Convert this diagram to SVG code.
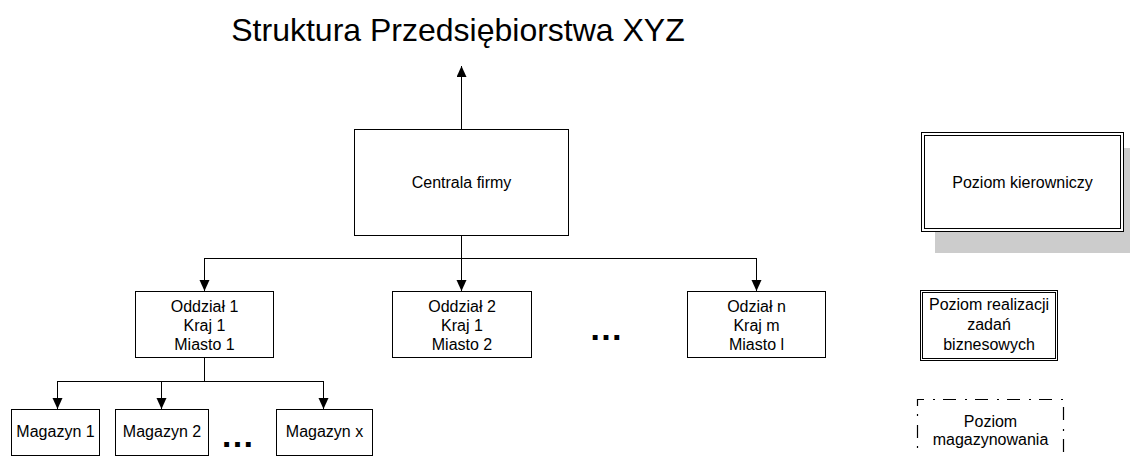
<svg xmlns="http://www.w3.org/2000/svg" width="1130" height="456" viewBox="0 0 1130 456">
  <style>
    .box { fill: #ffffff; stroke: #000000; stroke-width: 1; }
    .legend-dash { fill: none; stroke: #000000; stroke-width: 1.2; stroke-dasharray: 13 9 2 8; }
    .shadow { fill: #cccccc; stroke: none; }
    .lbl { font-family: "Liberation Sans", Arial, sans-serif; font-size: 16px; fill: #000000; text-anchor: middle; }
    .title { font-family: "Liberation Sans", Arial, sans-serif; font-size: 32px; fill: #000000; text-anchor: middle; }
    .dots { font-family: "Liberation Sans", Arial, sans-serif; font-size: 34px; font-weight: bold; fill: #000000; text-anchor: middle; }
    .conn { fill: none; stroke: #000000; stroke-width: 1; }
  </style>
  <defs>
    <marker id="arrow" markerUnits="userSpaceOnUse" markerWidth="11" markerHeight="11" refX="11" refY="5" orient="auto">
      <path d="M0,0 L11,5 L0,10 Z" fill="#000000"/>
    </marker>
  </defs>

  <rect width="1130" height="456" fill="#ffffff"/>

  <text class="title" x="458" y="41">Struktura Przedsiębiorstwa XYZ</text>

  <!-- connectors -->
  <g id="connectors">
    <line class="conn" x1="461.5" y1="129" x2="461.5" y2="66" marker-end="url(#arrow)"/>
    <line class="conn" x1="461.5" y1="235" x2="461.5" y2="291" marker-end="url(#arrow)"/>
    <line class="conn" x1="204.5" y1="258.5" x2="756.5" y2="258.5"/>
    <line class="conn" x1="204.5" y1="258" x2="204.5" y2="291" marker-end="url(#arrow)"/>
    <line class="conn" x1="756.5" y1="258" x2="756.5" y2="291" marker-end="url(#arrow)"/>
    <line class="conn" x1="204.5" y1="357" x2="204.5" y2="381"/>
    <line class="conn" x1="57.5" y1="381.5" x2="323.5" y2="381.5"/>
    <line class="conn" x1="57.5" y1="381" x2="57.5" y2="409" marker-end="url(#arrow)"/>
    <line class="conn" x1="161.5" y1="381" x2="161.5" y2="409" marker-end="url(#arrow)"/>
    <line class="conn" x1="323.5" y1="381" x2="323.5" y2="409" marker-end="url(#arrow)"/>
  </g>

  <!-- headquarters -->
  <g id="centrala">
    <rect class="box" x="354.5" y="129.5" width="214" height="106"/>
    <text class="lbl" x="461.5" y="188">Centrala firmy</text>
  </g>

  <!-- branches -->
  <g id="oddzial-1">
    <rect class="box" x="135.5" y="291.5" width="138" height="66"/>
    <text class="lbl" x="204.5" y="312">Oddział 1</text>
    <text class="lbl" x="204.5" y="331">Kraj 1</text>
    <text class="lbl" x="204.5" y="350">Miasto 1</text>
  </g>
  <g id="oddzial-2">
    <rect class="box" x="392.5" y="291.5" width="139" height="66"/>
    <text class="lbl" x="462" y="312">Oddział 2</text>
    <text class="lbl" x="462" y="331">Kraj 1</text>
    <text class="lbl" x="462" y="350">Miasto 2</text>
  </g>
  <g id="oddzial-n">
    <rect class="box" x="687.5" y="291.5" width="138" height="66"/>
    <text class="lbl" x="756.5" y="312">Odział n</text>
    <text class="lbl" x="756.5" y="331">Kraj m</text>
    <text class="lbl" x="756.5" y="350">Miasto l</text>
  </g>
  <text class="dots" x="606" y="340">…</text>

  <!-- warehouses -->
  <g id="magazyn-1">
    <rect class="box" x="11.5" y="409.5" width="88" height="46"/>
    <text class="lbl" x="55.5" y="437">Magazyn 1</text>
  </g>
  <g id="magazyn-2">
    <rect class="box" x="115.5" y="409.5" width="93" height="46"/>
    <text class="lbl" x="162" y="437">Magazyn 2</text>
  </g>
  <g id="magazyn-x">
    <rect class="box" x="276.5" y="409.5" width="96" height="46"/>
    <text class="lbl" x="324.5" y="437">Magazyn x</text>
  </g>
  <text class="dots" x="237.5" y="447">…</text>

  <!-- legend -->
  <g id="legend-kierowniczy">
    <rect class="shadow" x="935" y="148" width="200" height="105"/>
    <rect class="box" x="921.5" y="132.5" width="202" height="99"/>
    <rect class="box" x="924.5" y="135.5" width="196" height="93"/>
    <text class="lbl" x="1022.5" y="188">Poziom kierowniczy</text>
  </g>
  <g id="legend-realizacja">
    <rect class="box" x="920.5" y="290.5" width="137" height="70"/>
    <rect class="box" x="922.5" y="292.5" width="133" height="66"/>
    <text class="lbl" x="989" y="310">Poziom realizacji</text>
    <text class="lbl" x="989" y="330">zadań</text>
    <text class="lbl" x="989" y="350">biznesowych</text>
  </g>
  <g id="legend-magazynowanie">
    <path class="legend-dash" d="M917.5,470 L917.5,399.5 L1063.5,399.5 L1063.5,470"/>
    <text class="lbl" x="990.5" y="427">Poziom</text>
    <text class="lbl" x="990.5" y="445">magazynowania</text>
  </g>
</svg>
